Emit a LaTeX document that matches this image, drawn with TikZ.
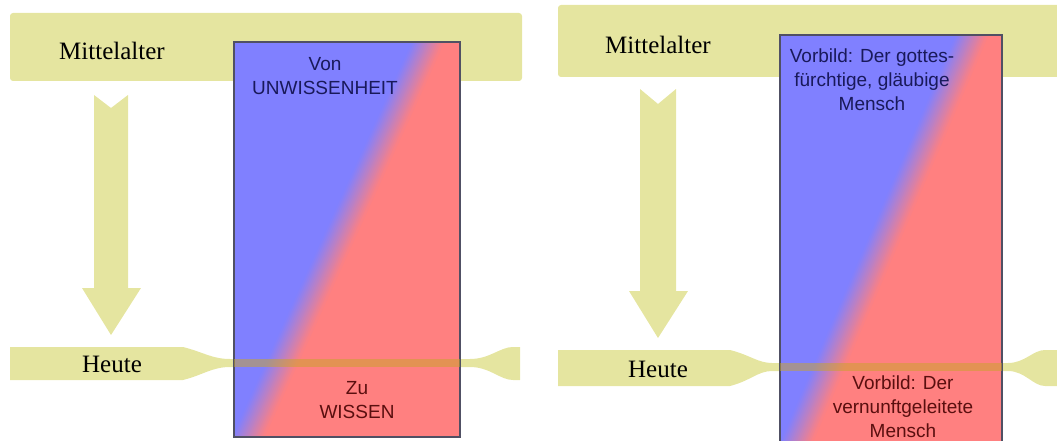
\documentclass[tikz,border=0pt]{standalone}
\usepackage{fontspec}
\setmainfont{Liberation Serif}
\newfontfamily\arialfont{Liberation Sans}
\definecolor{khaki}{RGB}{229,229,160}
\definecolor{cblue}{RGB}{128,128,255}
\definecolor{cred}{RGB}{255,128,128}
\definecolor{seamc}{RGB}{200,165,40}
\definecolor{boxline}{RGB}{80,80,100}
\definecolor{navy}{RGB}{25,25,90}
\definecolor{wine}{RGB}{90,15,15}

\begin{document}
\begin{tikzpicture}[
  x=1pt, y=-1pt,
  band/.style={fill=khaki},
  era/.style={font=\fontsize{25}{30}\selectfont},
  lbl/.style={font=\arialfont\fontsize{19}{24}\selectfont, align=center, inner sep=0pt},
  box/.style={draw=boxline, line width=1.2pt},
  seam/.style={fill=seamc, opacity=0.5},
]

\useasboundingbox (0,0) rectangle (1057,441);
\clip (0,0) rectangle (1057,441);

\path [band, rounded corners=3pt] (10,13) rectangle (522,81);
\path [band] (10,347) -- (183,347) .. controls (203,352) and (212,359) .. (230,359) -- (470,359)
  .. controls (490,359) and (500,347) .. (513,347) -- (520,347) -- (520,380) -- (513,380)
  .. controls (500,380) and (490,367) .. (470,367) -- (230,367)
  .. controls (212,367) and (203,375) .. (183,380) -- (10,380) -- cycle;
\path [band] (94,95) -- (111,108) -- (128,95) -- (128,288) -- (141,288) -- (111,335) -- (82,288) -- (94,288) -- cycle;
\node [era] (ma1) at (112,51) {Mittelalter};
\node [era] (heute1) at (112,364) {Heute};

\begin{scope}
  \clip (234,42) rectangle (460,437);
  \fill [cblue] (234,42) rectangle (460,437);
  \fill [cred] (444,42) -- (470,42) -- (470,437) -- (264,437) -- cycle;
  \foreach \k [evaluate=\k as \p using int(3+6.25*\k)] in {0,...,15}
    \fill [cred!\p!cblue] (412+2*\k,42) -- (414.6+2*\k,42) -- (234.6+2*\k,437) -- (232+2*\k,437) -- cycle;
\end{scope}
\draw [box] (234,42) rectangle (460,437);
\path [seam] (234,359) rectangle (460,367);
\node [lbl, text=navy] (von) at (325,76) {Von\\UNWISSENHEIT};
\node [lbl, text=wine] (zu) at (357,400) {Zu\\WISSEN};

\path [band, rounded corners=3pt] (558,5) rectangle (1070,77);
\path [band] (558,350) -- (730,350) .. controls (750,355) and (758,363) .. (772,363) -- (1008,363)
  .. controls (1025,363) and (1033,350) .. (1045,350) -- (1070,350) -- (1070,386) -- (1045,386)
  .. controls (1033,386) and (1025,371) .. (1008,371) -- (772,371)
  .. controls (758,371) and (750,381) .. (730,386) -- (558,386) -- cycle;
\path [band] (640,89) -- (658,104) -- (676,89) -- (676,291) -- (688,291) -- (658,338) -- (629,291) -- (640,291) -- cycle;
\node [era] (ma2) at (658,45) {Mittelalter};
\node [era] (heute2) at (658,369) {Heute};

\begin{scope}
  \clip (780,35) rectangle (1002,450);
  \fill [cblue] (780,35) rectangle (1002,450);
  \fill [cred] (988,35) -- (1010,35) -- (1010,450) -- (809,450) -- cycle;
  \foreach \k [evaluate=\k as \p using int(3+6.25*\k)] in {0,...,15}
    \fill [cred!\p!cblue] (956+2*\k,35) -- (958.6+2*\k,35) -- (779.6+2*\k,450) -- (777+2*\k,450) -- cycle;
\end{scope}
\draw [box] (780,35) rectangle (1002,450);
\path [seam] (780,363) rectangle (1002,371);
\node [lbl, text=navy] (vorbildA) at (872,80) {Vorbild: Der gottes-\\fürchtige, gläubige\\Mensch};
\node [lbl, text=wine] (vorbildB) at (903,407) {Vorbild: Der\\vernunftgeleitete\\Mensch};

\end{tikzpicture}
\end{document}
